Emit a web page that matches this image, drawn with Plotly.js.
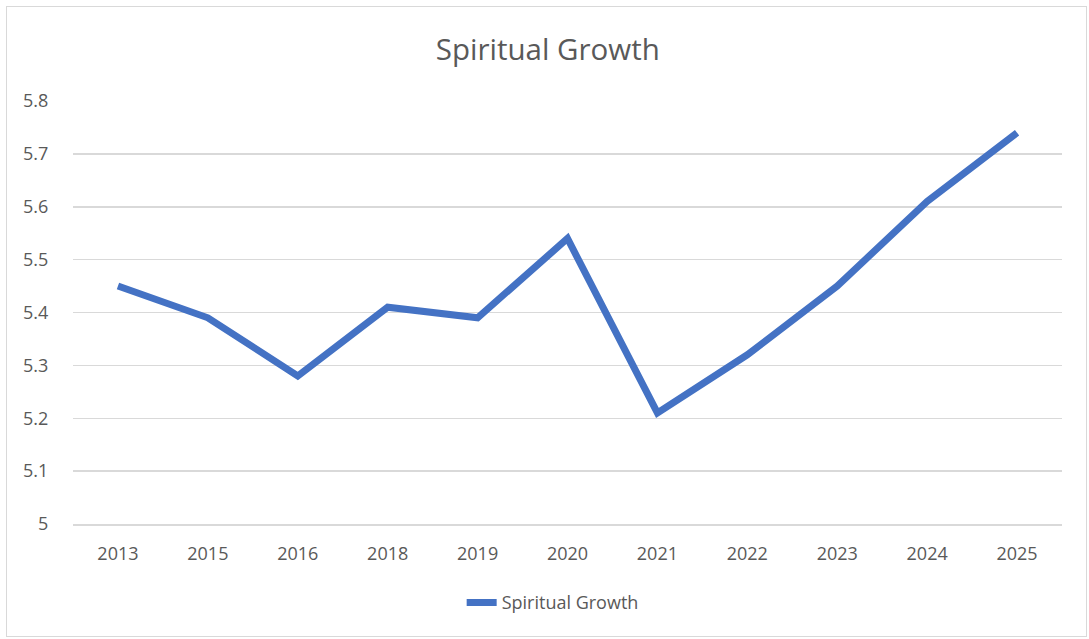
<!DOCTYPE html>
<html>
<head>
<meta charset="utf-8">
<script src="https://cdn.plot.ly/plotly-3.0.1.min.js"></script>
<style>
html,body{margin:0;padding:0;background:#fff;}
#frame{position:absolute;left:6px;top:6px;width:1081px;height:631px;border:1.5px solid #d9d9d9;box-sizing:border-box;}
#chart{position:absolute;left:0;top:0;width:1089px;height:639px;}
</style>
</head>
<body>
<div id="frame"></div>
<div id="chart"></div>
<script>
const years = ["2013","2015","2016","2018","2019","2020","2021","2022","2023","2024","2025"];
const spiritualGrowth = [5.45, 5.39, 5.28, 5.41, 5.39, 5.54, 5.21, 5.32, 5.45, 5.61, 5.74];
const seriesName = "Spiritual Growth";
const yTicks = [5, 5.1, 5.2, 5.3, 5.4, 5.5, 5.6, 5.7, 5.8];
const yTickText = ["5", "5.1", "5.2", "5.3", "5.4", "5.5", "5.6", "5.7", "5.8"];

const font = "Open Sans, Noto Sans, sans-serif";
Plotly.newPlot("chart", [{
  type: "scatter",
  mode: "lines",
  x: years,
  y: spiritualGrowth,
  name: seriesName,
  line: {color: "#4472C4", width: 7, shape: "linear"},
  showlegend: true
}], {
  width: 1089,
  height: 639,
  paper_bgcolor: "rgba(0,0,0,0)",
  plot_bgcolor: "rgba(0,0,0,0)",
  margin: {l: 73, r: 27, t: 101, b: 115},
  title: {text: "Spiritual Growth", x: 0.503, xanchor: "center", y: 0.922, yanchor: "middle",
          font: {family: font, size: 29.5, color: "#595959"}},
  xaxis: {
    type: "category",
    range: [-0.5, 10.5],
    tickfont: {family: font, size: 18, color: "#595959"},
    showgrid: false, zeroline: false,
    showline: true, linecolor: "#d9d9d9", linewidth: 1.5,
    ticks: "outside", ticklen: 13, tickcolor: "rgba(0,0,0,0)"
  },
  yaxis: {
    range: [5, 5.8],
    tickvals: yTicks,
    ticktext: yTickText,
    tickfont: {family: font, size: 18, color: "#595959"},
    gridcolor: "#d9d9d9", gridwidth: 1.5,
    zeroline: false, showline: false,
    ticks: "outside", ticklen: 20, tickcolor: "rgba(0,0,0,0)"
  },
  legend: {
    orientation: "h", x: 0.485, xanchor: "center", y: -0.186, yanchor: "middle",
    font: {family: font, size: 18, color: "#595959"},
    itemwidth: 30
  },
  showlegend: true
}, {displayModeBar: false, staticPlot: true});
</script>
</body>
</html>
